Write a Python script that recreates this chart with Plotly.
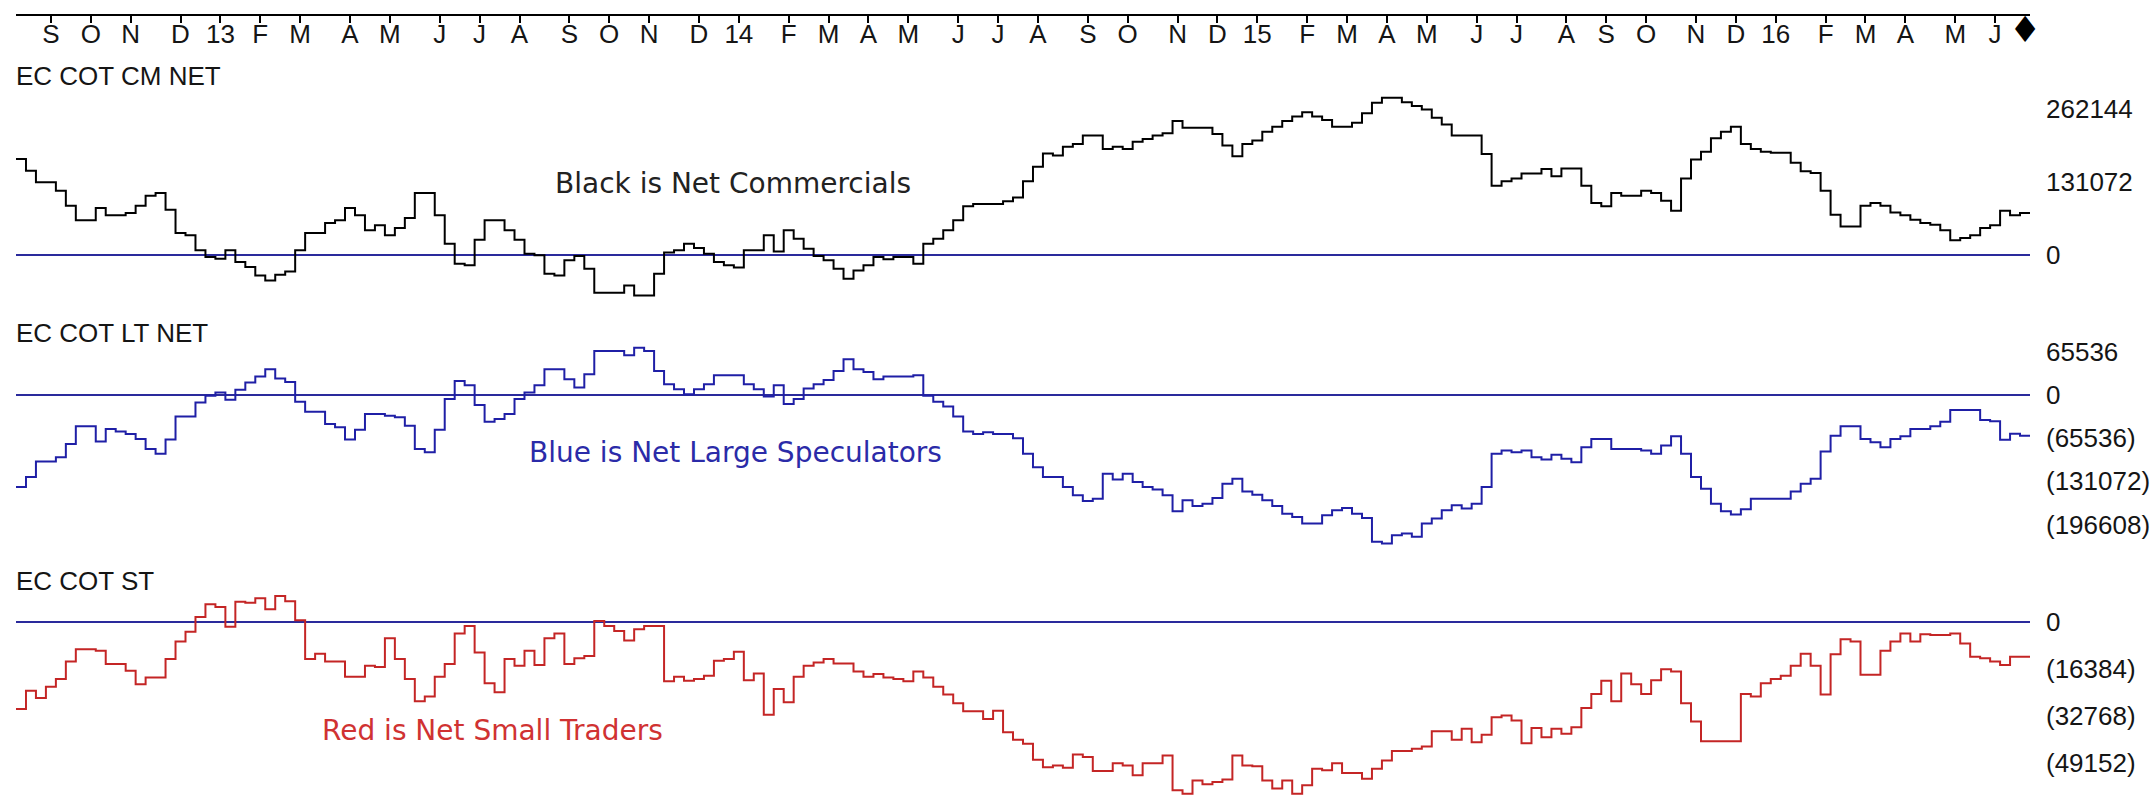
import datetime as dt
import plotly.graph_objects as go

# ---------------- data (weekly, Friday dated) ----------------
first_week = dt.datetime(2012, 8, 17)

# Net Commercials (thousands of contracts)
commercials_k = [
    172.8, 152, 131, 131, 116, 89, 63, 63, 85, 72,
    72, 76, 89, 107, 112, 82, 40, 36, 9, -3,
    -6, 9, -12, -21, -36, -45, -35, -29, 9, 40,
    40, 58, 63, 85, 72, 45, 54, 36, 49, 67,
    112, 112, 72, 21, -15, -18, 28, 63, 63, 45,
    28, 3, 0, -33, -36, -9, -1, -24, -67, -67,
    -67, -54, -72, -72, -33, 5, 9, 21, 13, 3,
    -12, -18, -22, 9, 9, 36, 7, 45, 30, 12,
    -1, -9, -24, -42, -27, -18, -3, -7, -3, -3,
    -15, 21, 30, 45, 63, 88, 92, 92, 92, 97,
    104, 133, 159, 183, 179, 195, 200, 215, 215, 191,
    195, 191, 204, 209, 215, 219, 241, 229, 229, 229,
    218, 197, 178, 200, 206, 222, 231, 241, 249, 257,
    249, 243, 231, 231, 238, 255, 274, 283, 283, 275,
    268, 262, 247, 235, 215, 215, 215, 182, 125, 133,
    138, 147, 147, 155, 142, 156, 156, 125, 94, 88,
    112, 107, 107, 116, 112, 98, 80, 138, 172, 186,
    210, 222, 231, 200, 191, 186, 184, 184, 166, 151,
    148, 116, 73, 52, 52, 89, 94, 89, 77, 72,
    64, 58, 55, 45, 27, 31, 36, 49, 54, 80,
    72, 76,
]

# Net Large Speculators (thousands)
large_spec_k = [
    -139.8, -124.7, -101.1, -101.1, -94.6, -74.4, -47.8, -47.8, -70.9, -51.8,
    -55.8, -59.4, -66.9, -82.0, -89.5, -67.9, -32.7, -32.7, -11.6, -1.5,
    3.5, -7.5, 7.5, 18.6, 27.7, 38.7, 24.6, 19.6, -10.6, -25.7,
    -25.7, -44.3, -49.3, -67.9, -52.8, -29.2, -29.2, -31.7, -34.2, -46.8,
    -82.0, -87.0, -52.8, -6.5, 21.1, 14.6, -15.6, -40.7, -36.7, -29.2,
    -6.5, 3.5, 14.6, 38.7, 38.7, 23.6, 11.1, 31.2, 66.4, 66.4,
    66.4, 59.9, 71.4, 66.4, 36.2, 16.1, 8.6, 1.0, 8.6, 16.1,
    29.7, 29.7, 29.7, 16.1, 8.6, -2.5, 14.6, -14.1, -6.5, 9.6,
    16.1, 22.6, 36.2, 53.8, 38.7, 34.7, 23.6, 27.7, 27.7, 27.7,
    29.7, -1.5, -10.6, -17.6, -32.7, -55.8, -59.4, -56.8, -59.4, -59.4,
    -65.9, -89.5, -109.7, -124.7, -124.7, -139.8, -152.4, -161.0, -157.4, -119.7,
    -128.3, -119.7, -132.3, -139.8, -143.4, -152.4, -176.6, -160.0, -168.5, -165.0,
    -156.4, -134.8, -127.3, -146.4, -151.4, -160.0, -168.5, -180.1, -185.1, -195.2,
    -195.2, -182.6, -175.0, -171.5, -180.1, -186.6, -222.8, -225.3, -212.8, -210.3,
    -215.3, -195.2, -187.6, -175.0, -167.5, -172.5, -165.0, -139.8, -89.5, -84.5,
    -87.0, -84.5, -94.6, -98.1, -91.0, -97.1, -102.1, -79.5, -66.9, -66.9,
    -82.0, -82.0, -82.0, -84.5, -89.5, -77.0, -62.9, -89.5, -124.7, -142.3,
    -165.0, -176.6, -181.6, -173.5, -157.4, -157.4, -157.4, -157.4, -146.4, -134.8,
    -127.3, -86.0, -61.9, -47.8, -47.8, -66.9, -71.9, -79.5, -66.9, -62.9,
    -51.8, -51.8, -47.8, -40.7, -23, -23, -23, -38, -40, -68,
    -59, -62,
]

# Net Small Traders (thousands)
small_traders_k = [
    -30.3, -24.0, -26.5, -22.6, -19.9, -13.8, -9.6, -9.6, -10.1, -14.7,
    -14.7, -17.0, -21.7, -19.4, -19.4, -13.0, -6.9, -3.5, 1.6, 6.0,
    5.1, -1.8, 6.9, 6.6, 8.1, 4.3, 8.9, 7.1, 0.5, -13.0,
    -11.1, -13.8, -13.8, -19.1, -19.1, -15.3, -15.7, -5.8, -13.0, -19.9,
    -27.6, -26.0, -19.1, -14.7, -4.1, -1.5, -10.7, -21.4, -24.5, -13.0,
    -15.3, -10.1, -15.0, -5.8, -4.1, -14.7, -12.7, -11.9, 0.2, -1.5,
    -3.2, -6.5, -2.6, -1.5, -1.5, -20.7, -19.1, -20.5, -19.9, -18.8,
    -13.6, -13.0, -10.4, -20.3, -18.0, -32.3, -23.4, -28.0, -19.1, -15.3,
    -14.2, -13.0, -14.5, -14.5, -17.3, -19.1, -18.2, -19.4, -19.9, -20.7,
    -17.3, -19.4, -22.6, -25.3, -28.3, -31.1, -31.1, -33.8, -30.9, -38.4,
    -41.0, -42.4, -47.9, -50.5, -49.9, -50.7, -46.1, -47.0, -51.8, -51.8,
    -49.1, -49.9, -53.3, -49.1, -49.1, -46.4, -58.5, -59.7, -55.1, -56.4,
    -55.6, -54.8, -46.4, -49.9, -50.2, -55.1, -57.9, -55.1, -59.7, -56.8,
    -51.0, -51.6, -49.1, -52.5, -52.5, -54.5, -51.0, -48.2, -44.9, -44.9,
    -44.1, -43.3, -38.0, -38.0, -41.0, -37.2, -41.8, -39.2, -33.2, -32.6,
    -34.3, -42.2, -36.9, -40.1, -37.2, -38.9, -36.6, -30.0, -25.1, -20.5,
    -27.6, -18.0, -21.7, -25.1, -20.3, -16.5, -17.3, -28.3, -34.6, -41.5,
    -41.5, -41.5, -41.5, -25.1, -26.0, -21.4, -19.9, -18.8, -15.3, -11.1,
    -15.3, -25.3, -11.3, -6.1, -6.9, -18.4, -18.4, -10.1, -6.9, -4.1,
    -6.9, -4.4, -4.6, -4.6, -4.1, -7.6, -12.2, -12.7, -13.8, -15.0,
    -12.2, -12.2,
]

month_letters = ["", "F", "M", "A", "M", "J", "J", "A", "S", "O", "N", "D"]

cm_ticks = [0, 131072, 262144]
cm_ticktext = ["0", "131072", "262144"]
lt_ticks = [65536, 0, -65536, -131072, -196608]
lt_ticktext = ["65536", "0", "(65536)", "(131072)", "(196608)"]
st_ticks = [0, -16384, -32768, -49152]
st_ticktext = ["0", "(16384)", "(32768)", "(49152)"]

# ---------------- derived ----------------
n = len(commercials_k)
weeks = [first_week + dt.timedelta(weeks=k) for k in range(n)]
half = dt.timedelta(days=3.5)
edges = [w - half for w in weeks] + [weeks[-1] + half]

def stepped(vals_k):
    v = [x * 1000 for x in vals_k]
    return v + [v[-1]]

tickvals, ticktext = [], []
for k in range(1, n):
    if weeks[k].month != weeks[k - 1].month:
        tickvals.append(weeks[k])
        m = weeks[k].month
        ticktext.append(f"{weeks[k].year % 100:02d}" if m == 1 else month_letters[m - 1])

# ---------------- layout geometry ----------------
W, H = 2156, 795

def dom(top, bottom):
    return [1 - bottom / H, 1 - top / H]

def vrange(zero_px, px_per_unit, top, bottom):
    return [(zero_px - bottom) / px_per_unit, (zero_px - top) / px_per_unit]

cm_dom = (88, 302)
lt_dom = (338, 552)
st_dom = (585, 795)
cm_rng = vrange(253.3, 73.3 / 131072, *cm_dom)
lt_rng = vrange(393.3, 43.4 / 65536, *lt_dom)
st_rng = vrange(621.0, 47.4 / 16384, *st_dom)

AX_FONT = dict(family="Liberation Sans, Arial, sans-serif", size=26, color="#151515")
ZERO_COL = "#2a2a9c"

fig = go.Figure()
fig.add_trace(go.Scatter(x=edges, y=stepped(commercials_k), mode="lines",
                         line=dict(shape="hv", color="#000000", width=2),
                         yaxis="y", hoverinfo="skip", showlegend=False))
fig.add_trace(go.Scatter(x=edges, y=stepped(large_spec_k), mode="lines",
                         line=dict(shape="hv", color="#1f1fa6", width=2),
                         yaxis="y2", hoverinfo="skip", showlegend=False))
fig.add_trace(go.Scatter(x=edges, y=stepped(small_traders_k), mode="lines",
                         line=dict(shape="hv", color="#c42525", width=2),
                         yaxis="y3", hoverinfo="skip", showlegend=False))

def yax(domain, rng, tv, tt):
    return dict(domain=dom(*domain), range=rng, side="right", anchor="x",
                showgrid=False, zeroline=True, zerolinecolor=ZERO_COL, zerolinewidth=2,
                showline=False, ticks="", tickvals=tv, ticktext=tt,
                ticklabelstandoff=15, tickfont=AX_FONT, fixedrange=True)

fig.update_layout(
    width=W, height=H, autosize=False,
    margin=dict(l=0, r=0, t=0, b=0, pad=0),
    paper_bgcolor="white", plot_bgcolor="white",
    xaxis=dict(domain=[16 / W, 2030 / W], range=[edges[0], edges[-1]],
               anchor="free", position=1 - 12 / H, side="bottom",
               showline=True, linecolor="#000000", linewidth=2,
               ticks="outside", ticklen=7, tickwidth=2, tickcolor="#000000",
               tickvals=tickvals, ticktext=ticktext, tickangle=0,
               ticklabelstandoff=-11,
               tickfont=AX_FONT, showgrid=False, zeroline=False, fixedrange=True),
    yaxis=yax(cm_dom, cm_rng, cm_ticks, cm_ticktext),
    yaxis2=yax(lt_dom, lt_rng, lt_ticks, lt_ticktext),
    yaxis3=yax(st_dom, st_rng, st_ticks, st_ticktext),
)

def label(text, x_px, y_px, font):
    fig.add_annotation(text=text, xref="paper", yref="paper",
                       x=x_px / W, y=1 - y_px / H, xanchor="left", yanchor="middle",
                       showarrow=False, font=font)

TITLE_FONT = dict(family="Liberation Sans, Arial, sans-serif", size=26, color="#151515")
label("EC COT CM NET", 14, 73, TITLE_FONT)
label("EC COT LT NET", 14, 331, TITLE_FONT)
label("EC COT ST", 14, 580, TITLE_FONT)

NOTE = "DejaVu Sans, Verdana, sans-serif"
label("Black is Net Commercials", 553, 181, dict(family=NOTE, size=28, color="#222222"))
label("Blue is Net Large Speculators", 527, 451, dict(family=NOTE, size=28, color="#2b2ba8"))
label("Red is Net Small Traders", 320, 730, dict(family=NOTE, size=28, color="#d03232"))

# current-bar marker on the time axis
fig.add_annotation(text="\u2666", xref="x", yref="paper", x=weeks[-1], y=1 - 27 / H,
                   xanchor="center", yanchor="middle", showarrow=False,
                   font=dict(family="DejaVu Sans", size=36, color="#000000"))

fig.write_html("out.html", config={"displayModeBar": False},
               post_script="document.body.style.margin='0';")
